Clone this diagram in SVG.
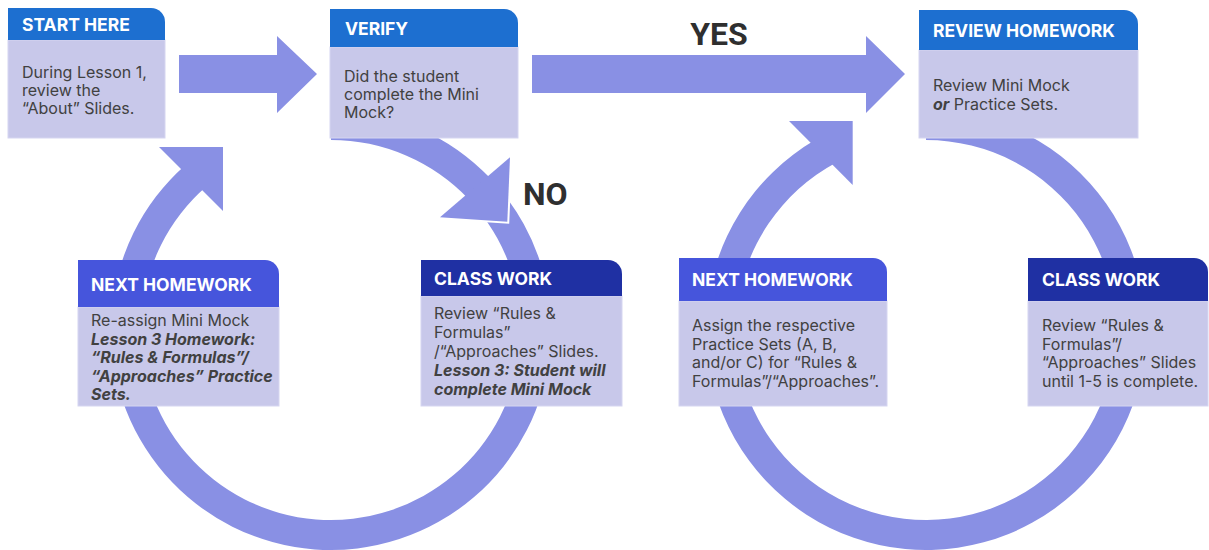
<svg xmlns="http://www.w3.org/2000/svg" width="1209" height="550" viewBox="0 0 1209 550">
  <style>
    .flow { fill: #8990e4; }
    .gap { fill: none; stroke: #ffffff; stroke-width: 4; stroke-linejoin: miter; }
    .body { fill: #c8c8ea; stroke: #d6d6f1; stroke-width: 1; }
    .hd-blue { fill: #1d6fd0; }
    .hd-indigo { fill: #4655dc; }
    .hd-navy { fill: #1f30a3; }
    .title { font-family: Inter, "Liberation Sans", sans-serif; font-weight: 700; font-size: 17.5px; fill: #ffffff; }
    .txt { font-family: Inter, "Liberation Sans", sans-serif; font-size: 16px; fill: #414141; }
    .em { font-weight: 700; font-style: italic; }
    .verdict { font-family: Roboto, "Liberation Sans", sans-serif; font-weight: 700; font-size: 32px; fill: #2f2f2f; }
  </style>

  <rect width="1209" height="550" fill="#ffffff"/>

  <!-- connectors: straight block arrows and the two circular loops -->
  <g id="connectors">
    <!-- START HERE -> VERIFY -->
    <polygon class="flow" points="179,55 277,55 277,36 317,74 277,113 277,93 179,93"/>
    <!-- VERIFY -> REVIEW HOMEWORK (YES) -->
    <polygon class="flow" points="532,55 866,55 866,36 905,74 866,113 866,93 532,93"/>

    <!-- left loop, part 2: CLASS WORK -> NEXT HOMEWORK -> START HERE -->
    <path class="flow" d="M499.5 188.6 A220 220 0 1 1 185.2 165.2 L206.3 186.6 A190 190 0 1 0 476.5 207.9 Z"/>
    <polygon class="flow" points="159,147 223,147 223,211"/>

    <!-- left loop, part 1: VERIFY -> CLASS WORK (NO) -->
    <path class="flow" d="M331 110 A220 220 0 0 1 490.6 178.6 L468.8 199.2 A190 190 0 0 0 331 140 Z"/>
    <polyline class="gap" points="510,157.3 507.3,221.7 440,217.3"/>
    <polygon class="flow" points="510,157.3 507.3,221.7 440,217.3"/>

    <!-- right loop: REVIEW HOMEWORK -> CLASS WORK -> NEXT HOMEWORK -> back -->
    <path class="flow" d="M926 110 A220 220 0 1 1 815 140.1 L835.9 162.7 A190 190 0 1 0 926 140 Z"/>
    <polygon class="flow" points="789,121 852.7,121 852.7,185"/>
  </g>

  <g id="labels">
    <text class="verdict" x="719" y="45" text-anchor="middle">YES</text>
    <text class="verdict" x="523" y="205">NO</text>
  </g>

  <g id="start-here">
    <rect class="body" x="8" y="40" width="157" height="98"/>
    <path class="hd-blue" d="M8 8 H151 A14 14 0 0 1 165 22 V40 H8 Z"/>
    <text class="title" x="22" y="31">START HERE</text>
    <text class="txt" x="22" y="77.5">During Lesson 1,</text>
    <text class="txt" x="22" y="95.5">review the</text>
    <text class="txt" x="22" y="113.5">“About” Slides.</text>
  </g>

  <g id="verify">
    <rect class="body" x="330" y="47" width="188" height="91"/>
    <path class="hd-blue" d="M330 9 H504 A14 14 0 0 1 518 23 V47 H330 Z"/>
    <text class="title" x="345" y="35">VERIFY</text>
    <text class="txt" x="344" y="81.5">Did the student</text>
    <text class="txt" x="344" y="99.5">complete the Mini</text>
    <text class="txt" x="344" y="117.5">Mock?</text>
  </g>

  <g id="review-homework">
    <rect class="body" x="919" y="50" width="219" height="88"/>
    <path class="hd-blue" d="M919 10 H1124 A14 14 0 0 1 1138 24 V50 H919 Z"/>
    <text class="title" x="933" y="37">REVIEW HOMEWORK</text>
    <text class="txt" x="933" y="91">Review Mini Mock</text>
    <text class="txt" x="933" y="110"><tspan class="em">or</tspan> Practice Sets.</text>
  </g>

  <g id="next-homework-left">
    <rect class="body" x="78" y="307" width="201" height="99"/>
    <path class="hd-indigo" d="M78 260 H265 A14 14 0 0 1 279 274 V307 H78 Z"/>
    <text class="title" x="91" y="291">NEXT HOMEWORK</text>
    <text class="txt" x="91" y="326">Re-assign Mini Mock</text>
    <text class="txt em" x="91" y="344.5">Lesson 3 Homework:</text>
    <text class="txt em" x="91" y="363">“Rules &amp; Formulas”/</text>
    <text class="txt em" x="91" y="381.5">“Approaches” Practice</text>
    <text class="txt em" x="91" y="400">Sets.</text>
  </g>

  <g id="class-work-left">
    <rect class="body" x="421" y="296" width="201" height="110"/>
    <path class="hd-navy" d="M421 260 H608 A14 14 0 0 1 622 274 V296 H421 Z"/>
    <text class="title" x="434" y="285">CLASS WORK</text>
    <text class="txt" x="434" y="318.5">Review “Rules &amp;</text>
    <text class="txt" x="434" y="337.5">Formulas”</text>
    <text class="txt" x="434" y="356.5">/“Approaches” Slides.</text>
    <text class="txt em" x="434" y="375.5">Lesson 3: Student will</text>
    <text class="txt em" x="434" y="394.5">complete Mini Mock</text>
  </g>

  <g id="next-homework-right">
    <rect class="body" x="679" y="301" width="208" height="105"/>
    <path class="hd-indigo" d="M679 258 H873 A14 14 0 0 1 887 272 V301 H679 Z"/>
    <text class="title" x="692" y="286">NEXT HOMEWORK</text>
    <text class="txt" x="692" y="331">Assign the respective</text>
    <text class="txt" x="692" y="349.5">Practice Sets (A, B,</text>
    <text class="txt" x="692" y="368">and/or C) for “Rules &amp;</text>
    <text class="txt" x="692" y="386.5">Formulas”/“Approaches”.</text>
  </g>

  <g id="class-work-right">
    <rect class="body" x="1028" y="301" width="180" height="105"/>
    <path class="hd-navy" d="M1028 258 H1194 A14 14 0 0 1 1208 272 V301 H1028 Z"/>
    <text class="title" x="1042" y="286">CLASS WORK</text>
    <text class="txt" x="1042" y="331">Review “Rules &amp;</text>
    <text class="txt" x="1042" y="349.5">Formulas”/</text>
    <text class="txt" x="1042" y="368">“Approaches” Slides</text>
    <text class="txt" x="1042" y="386.5">until 1-5 is complete.</text>
  </g>
</svg>
